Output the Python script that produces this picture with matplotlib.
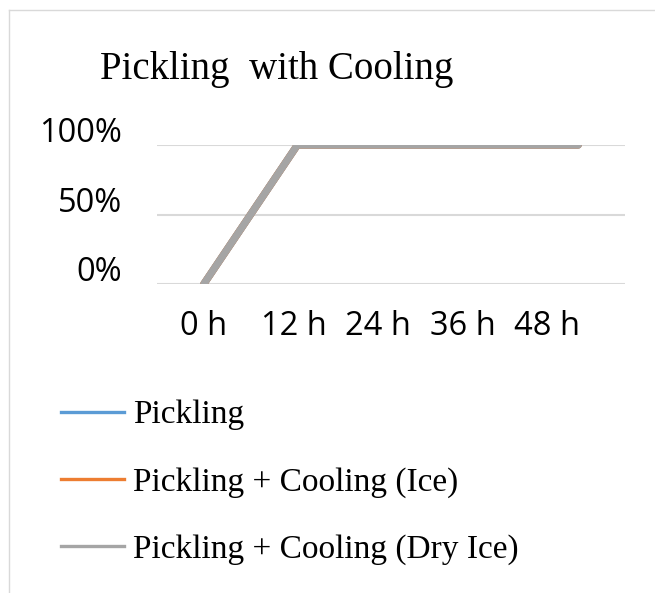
import matplotlib
matplotlib.use("Agg")
import matplotlib.pyplot as plt
from matplotlib.lines import Line2D
from matplotlib.transforms import ScaledTranslation

W, H = 655, 593
DPI = 100

categories = ["0 h", "12 h", "24 h", "36 h", "48 h"]
pickling = [0, 1, 1, 1, 1]
pickling_ice = [0, 1, 1, 1, 1]
pickling_dry_ice = [0, 1, 1, 1, 1]
y_ticks = [0, 0.5, 1.0]
y_tick_labels = ["0%", "50%", "100%"]
series_names = ["Pickling", "Pickling + Cooling (Ice)", "Pickling + Cooling (Dry Ice)"]
colors = ["#5B9BD5", "#ED7D31", "#A5A5A5"]

fig = plt.figure(figsize=(W / DPI, H / DPI), dpi=DPI)
fig.patch.set_facecolor("white")

def px(x0, y0, x1, y1):
    return [x0 / W, 1 - y1 / H, (x1 - x0) / W, (y1 - y0) / H]

ax = fig.add_axes(px(157, 145, 625, 284))
x = list(range(len(categories)))
for vals, c in zip([pickling, pickling_ice, pickling_dry_ice], colors):
    ax.plot(x, vals, color=c, lw=5.2, solid_capstyle="round", zorder=3)

ax.set_xlim(-0.5, len(categories) - 0.5)
ax.set_ylim(0, 1.0)
ax.set_yticks(y_ticks)
ax.set_yticklabels(y_tick_labels)
ax.set_xticks(x)
ax.set_xticklabels(categories)
ax.grid(axis="y", color="#D9D9D9", lw=1.5, zorder=1)
ax.set_axisbelow(True)
for s in ax.spines.values():
    s.set_visible(False)
ax.tick_params(axis="both", length=0, labelsize=23.5)
ax.tick_params(axis="y", pad=25)
ax.tick_params(axis="x", pad=19)
for lab in ax.get_xticklabels() + ax.get_yticklabels():
    lab.set_fontfamily("Open Sans")
for lab in ax.get_yticklabels():
    lab.set_va("baseline")
    lab.set_transform(lab.get_transform() + ScaledTranslation(0, 2 / 72, fig.dpi_scale_trans))
# x-label horizontal nudges (px) to follow the reference's compressed label spacing
x_shift_px = [0, -4, -13, -22, -31]
for lab, dx in zip(ax.get_xticklabels(), x_shift_px):
    lab.set_transform(lab.get_transform() + ScaledTranslation(dx / DPI, 0, fig.dpi_scale_trans))
ax.patch.set_alpha(0)

fig.text(277 / W, 1 - 79 / H, "Pickling  with Cooling", ha="center", va="baseline",
         fontsize=28, family="Liberation Serif")

handles = [Line2D([], [], color=c, lw=2.4) for c in colors]
fig.legend(handles, series_names, loc="upper left", bbox_to_anchor=(61 / W, 1 - 400 / H),
           frameon=False, prop={"family": "Liberation Serif", "size": 24},
           handlelength=1.89, handletextpad=0.27, labelspacing=1.09, borderpad=0,
           borderaxespad=0)

# outer frame lines (left and top)
fig.add_artist(Line2D([8.5 / W, 8.5 / W], [0, 1 - 10 / H], color="#D9D9D9", lw=1,
                      transform=fig.transFigure))
fig.add_artist(Line2D([8.5 / W, 1], [1 - 10 / H, 1 - 10 / H], color="#D9D9D9", lw=1,
                      transform=fig.transFigure))

fig.savefig("out.png", dpi=DPI)
